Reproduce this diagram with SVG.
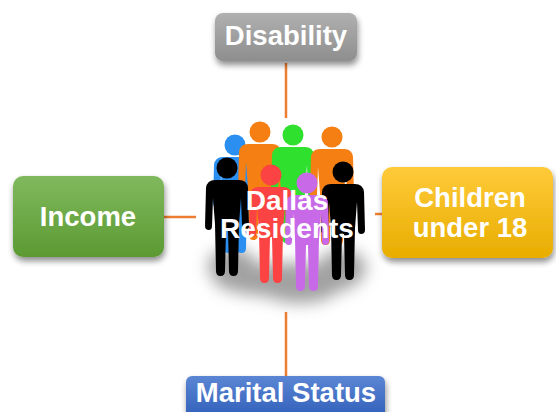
<svg xmlns="http://www.w3.org/2000/svg" width="556" height="412" viewBox="0 0 556 412">
  <defs>
    <style>
      .lbl { font-family: "Liberation Sans", Arial, sans-serif; font-weight: bold; font-size: 27.5px; fill: #ffffff; text-anchor: middle; }
      .big { font-size: 28px; }
      .conn { stroke: #ED7D31; stroke-width: 2.5; fill: none; }
    </style>
    <linearGradient id="gGray" x1="0" y1="0" x2="0" y2="1">
      <stop offset="0" stop-color="#b0b0b0"/>
      <stop offset="1" stop-color="#8e8e8e"/>
    </linearGradient>
    <linearGradient id="gGreen" x1="0" y1="0" x2="0" y2="1">
      <stop offset="0" stop-color="#80b95e"/>
      <stop offset="1" stop-color="#5c9a32"/>
    </linearGradient>
    <linearGradient id="gGold" x1="0" y1="0" x2="0" y2="1">
      <stop offset="0" stop-color="#ffca3a"/>
      <stop offset="1" stop-color="#e8ad00"/>
    </linearGradient>
    <linearGradient id="gBlue" x1="0" y1="0" x2="0" y2="1">
      <stop offset="0" stop-color="#5b86d4"/>
      <stop offset="1" stop-color="#2f5db8"/>
    </linearGradient>
    <filter id="shadow" x="-20%" y="-20%" width="140%" height="150%">
      <feGaussianBlur in="SourceAlpha" stdDeviation="3"/>
      <feOffset dx="1" dy="4" result="b"/>
      <feComponentTransfer><feFuncA type="linear" slope="0.45"/></feComponentTransfer>
      <feMerge><feMergeNode/><feMergeNode in="SourceGraphic"/></feMerge>
    </filter>
    <filter id="haze" x="-50%" y="-100%" width="200%" height="300%">
      <feGaussianBlur stdDeviation="8"/>
    </filter>
    <!-- one person silhouette, head centred on the origin -->
    <g id="person">
      <circle cx="0" cy="0" r="10.5"/>
      <path d="M -12,12 Q -20,12 -21,20 L -22,58 Q -22,62 -18,62 Q -15,62 -15,58 L -14,30 L -12,56 L -11,103 Q -11,108 -6.5,108 Q -2,108 -2,103 L -1,62 L 1,62 L 2,103 Q 2,108 6.5,108 Q 11,108 11,103 L 12,56 L 14,30 L 15,58 Q 15,62 18,62 Q 22,62 22,58 L 21,20 Q 20,12 12,12 Z"/>
    </g>
  </defs>

  <rect width="556" height="412" fill="#ffffff"/>

  <!-- connectors -->
  <g id="connectors">
    <line class="conn" x1="286" y1="63" x2="286" y2="118"/>
    <line class="conn" x1="164" y1="217" x2="196" y2="217"/>
    <line class="conn" x1="375" y1="214" x2="383" y2="214"/>
    <line class="conn" x1="286" y1="312" x2="286" y2="377"/>
  </g>

  <!-- centre: group of people standing in a soft ground shadow -->
  <g id="residents">
    <g filter="url(#haze)" fill="#8a8a8a" opacity="0.8">
      <ellipse cx="286" cy="280" rx="72" ry="17"/>
      <ellipse cx="232" cy="266" rx="24" ry="18"/>
      <ellipse cx="342" cy="268" rx="24" ry="18"/>
      <ellipse cx="300" cy="292" rx="34" ry="11"/>
    </g>
    <use href="#person" x="235" y="145" fill="#2a8ff0"/>
    <use href="#person" x="260" y="132" fill="#f57f12"/>
    <use href="#person" x="293" y="135" fill="#2fe02f"/>
    <use href="#person" x="332" y="137" fill="#f57f12"/>
    <use href="#person" x="227" y="168" fill="#000000"/>
    <use href="#person" x="343" y="172" fill="#000000"/>
    <use href="#person" x="271" y="175" fill="#fb4343"/>
    <use href="#person" x="307" y="183" fill="#c86ae8"/>
    <text class="lbl big" x="287" y="210">Dallas</text>
    <text class="lbl big" x="287" y="238">Residents</text>
  </g>

  <g id="disability">
    <rect x="215" y="13" width="142" height="48" rx="8" fill="url(#gGray)" filter="url(#shadow)"/>
    <text class="lbl" x="286" y="45">Disability</text>
  </g>

  <g id="income">
    <rect x="13" y="176" width="151" height="81" rx="10" fill="url(#gGreen)" filter="url(#shadow)"/>
    <text class="lbl" x="88" y="226">Income</text>
  </g>

  <g id="children">
    <rect x="382" y="167" width="171" height="91" rx="10" fill="url(#gGold)" filter="url(#shadow)"/>
    <text class="lbl" x="470" y="207">Children</text>
    <text class="lbl" x="470" y="237">under 18</text>
  </g>

  <g id="marital">
    <rect x="186" y="376" width="199" height="44" rx="6" fill="url(#gBlue)" filter="url(#shadow)"/>
    <text class="lbl" x="286" y="402">Marital Status</text>
  </g>
</svg>
